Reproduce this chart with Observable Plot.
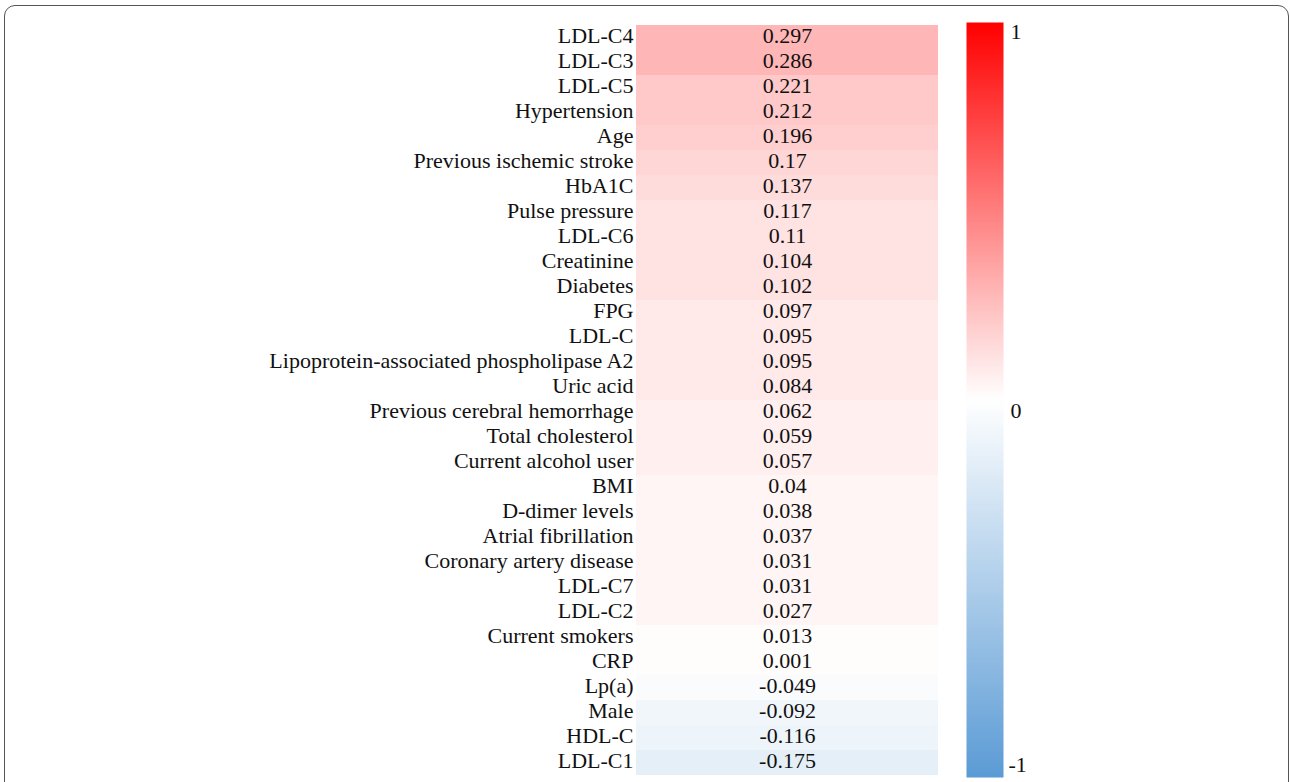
<!DOCTYPE html>
<html>
<head>
<meta charset="utf-8">
<script src="https://cdn.jsdelivr.net/npm/d3@7"></script>
<script src="https://cdn.jsdelivr.net/npm/@observablehq/plot@0.6"></script>
<style>
  html, body { margin: 0; padding: 0; background: #fff; }
  #wrap { position: relative; width: 1290px; height: 782px; overflow: hidden; background: #fff; }
  #frame { position: absolute; left: 4px; top: 5px; width: 1285px; height: 800px;
           border: 1.5px solid #555; border-radius: 11px; box-sizing: border-box; }
  #main { position: absolute; left: 0; top: 0; }
  #legend { position: absolute; left: 940px; top: 0; }
</style>
</head>
<body>
<div id="wrap">
  <div id="frame"></div>
  <div id="main"></div>
  <div id="legend"></div>
</div>
<script>
const labels = ["LDL-C4","LDL-C3","LDL-C5","Hypertension","Age","Previous ischemic stroke","HbA1C","Pulse pressure","LDL-C6","Creatinine","Diabetes","FPG","LDL-C","Lipoprotein-associated phospholipase A2","Uric acid","Previous cerebral hemorrhage","Total cholesterol","Current alcohol user","BMI","D-dimer levels","Atrial fibrillation","Coronary artery disease","LDL-C7","LDL-C2","Current smokers","CRP","Lp(a)","Male","HDL-C","LDL-C1"];
const values = [0.297,0.286,0.221,0.212,0.196,0.17,0.137,0.117,0.11,0.104,0.102,0.097,0.095,0.095,0.084,0.062,0.059,0.057,0.04,0.038,0.037,0.031,0.031,0.027,0.013,0.001,-0.049,-0.092,-0.116,-0.175];
const legendTicks = [1, 0, -1];

const table = labels.map((name, i) => ({name, value: values[i]}));

const negColor = "#5b9bd5", posColor = "#ff0000";
const interp = t => t < 0.5 ? d3.interpolateRgb(negColor, "#ffffff")(t * 2)
                            : d3.interpolateRgb("#ffffff", posColor)((t - 0.5) * 2);

// stepped colour scale for the cells (bands of 0.025)
const step = 0.025;
const thresholds = d3.range(1, 80).map(i => +(-1 + i * step).toFixed(4));
const bandColors = d3.range(0, 80).map(i => interp(((-1 + i * step + step / 2) + 1) / 2));

const font = "'Liberation Serif', 'Times New Roman', serif";

const main = Plot.plot({
  width: 940,
  height: 782,
  marginLeft: 636,
  marginRight: 2,
  marginTop: 22,
  marginBottom: 5,
  style: {fontFamily: font, background: "transparent"},
  x: {axis: null, domain: ["v"], padding: 0},
  y: {domain: labels, padding: 0, label: null},
  color: {type: "threshold", domain: thresholds, range: bandColors},
  marks: [
    Plot.cell(table, {x: () => "v", y: "name", fill: "value"}),
    Plot.text(table, {x: () => "v", y: "name", text: d => String(d.value), fontSize: 22, dy: -2, fill: "#111"}),
    Plot.axisY({tickSize: 0, tickPadding: 3, fontSize: 22, dy: -2, fill: "#111", label: null})
  ]
});
document.getElementById("main").appendChild(main);

const legend = Plot.plot({
  width: 350,
  height: 782,
  marginLeft: 26,
  marginRight: 287,
  marginTop: 22,
  marginBottom: 5,
  style: {fontFamily: font, background: "transparent"},
  x: {axis: null, domain: [0, 1]},
  y: {axis: null, domain: [-1, 1]},
  color: {type: "linear", domain: [-1, 1], interpolate: interp},
  marks: [
    Plot.raster({x1: 0, x2: 1, y1: -1, y2: 1, width: 2, height: 400, fill: (x, y) => y, imageRendering: "auto"}),
    Plot.text(legendTicks.filter(d => d > 0), {x: 1, y: d => d, text: d => String(d), textAnchor: "start", lineAnchor: "top", dx: 7, dy: 1, fontSize: 22, fill: "#111"}),
    Plot.text(legendTicks.filter(d => d === 0), {x: 1, y: d => d, text: d => String(d), textAnchor: "start", lineAnchor: "top", dx: 7, dy: 2, fontSize: 22, fill: "#111"}),
    Plot.text(legendTicks.filter(d => d < 0), {x: 1, y: d => d, text: d => String(d), textAnchor: "start", lineAnchor: "bottom", dx: 5, dy: -6, fontSize: 22, fill: "#111"})
  ]
});
document.getElementById("legend").appendChild(legend);
</script>
</body>
</html>
